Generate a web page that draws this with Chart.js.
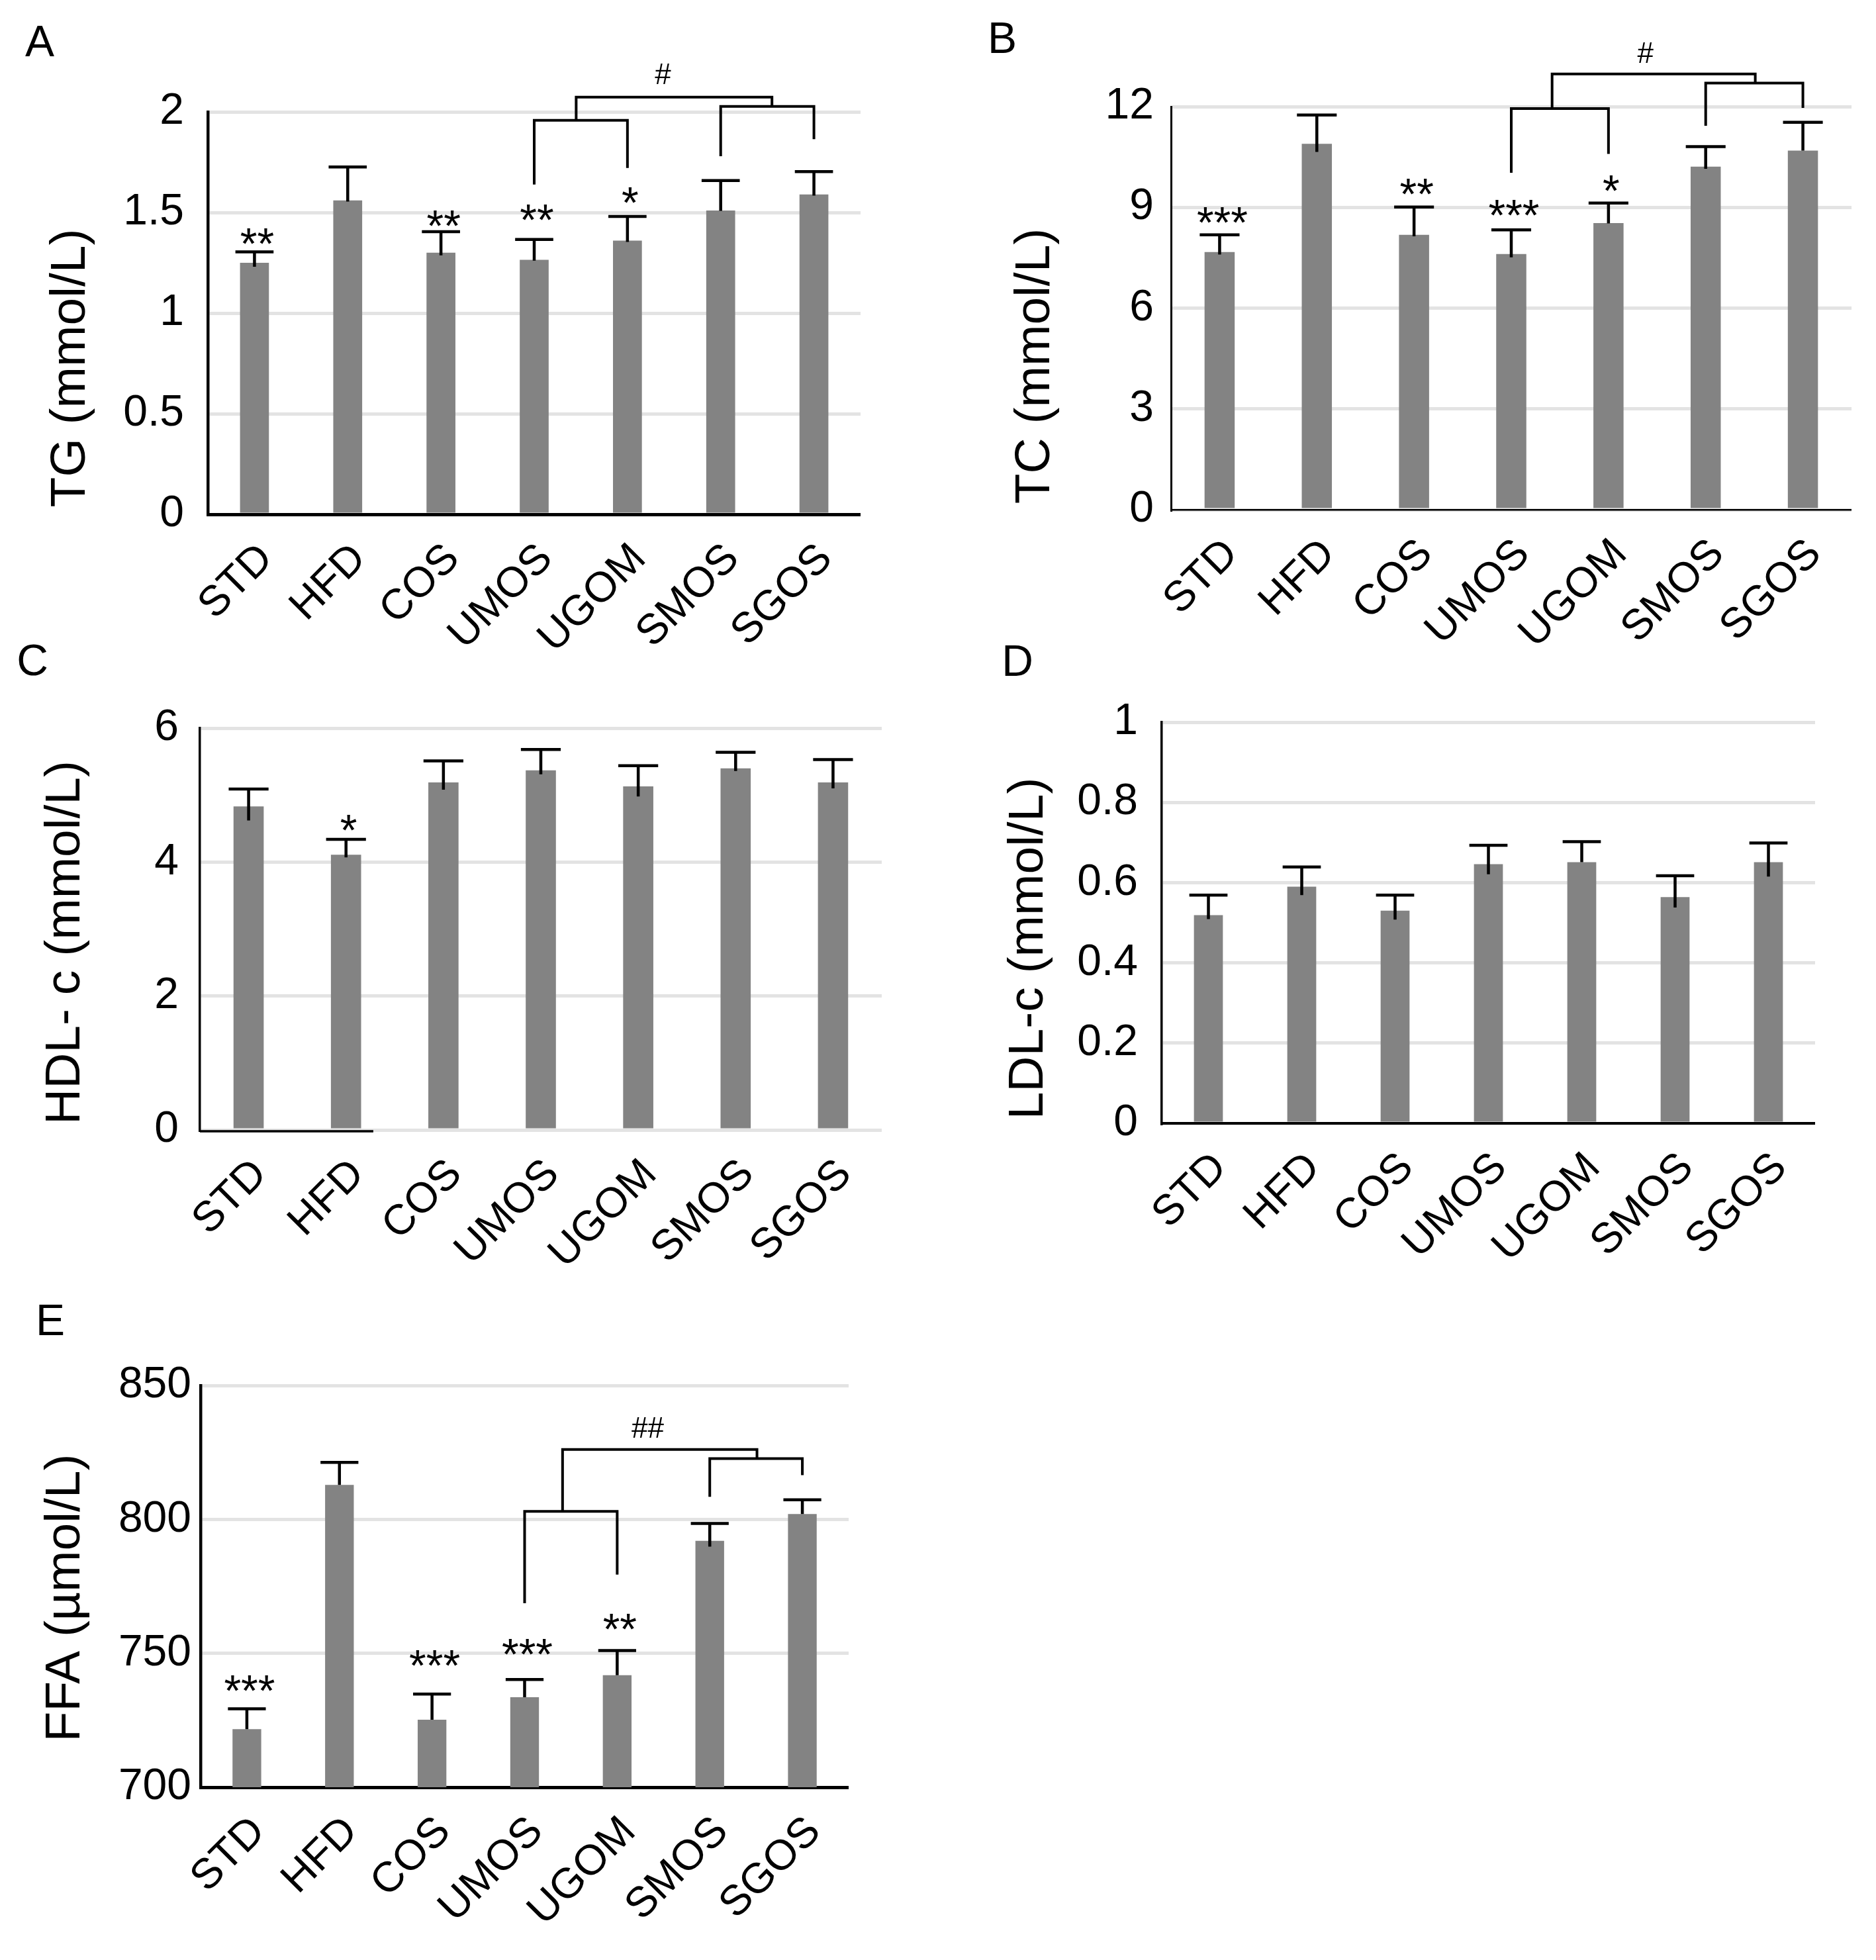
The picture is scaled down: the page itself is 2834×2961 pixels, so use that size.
<!DOCTYPE html>
<html>
<head>
<meta charset="utf-8">
<script src="https://cdn.jsdelivr.net/npm/chart.js@4.4.0/dist/chart.umd.min.js"></script>
<style>
  body { margin: 0; background: #fff; }
  #wrap { position: relative; width: 2834px; height: 2961px; background: #fff; overflow: hidden; }
  #wrap canvas { position: absolute; }
</style>
</head>
<body>
<div id="wrap">
  <canvas id="chartA"></canvas>
  <canvas id="chartB"></canvas>
  <canvas id="chartC"></canvas>
  <canvas id="chartD"></canvas>
  <canvas id="chartE"></canvas>
</div>
<script>
Chart.defaults.font.family = '"Liberation Sans", Arial, sans-serif';
Chart.defaults.color = '#000';

const groups = ['STD', 'HFD', 'COS', 'UMOS', 'UGOM', 'SMOS', 'SGOS'];

// A - TG
const tgMean = [1.25, 1.56, 1.30, 1.265, 1.36, 1.51, 1.59];
const tgErr = [0.054, 0.166, 0.105, 0.101, 0.12, 0.149, 0.113];
const tgErrLo = [0.02, 0.006, 0.013, 0.004, 0.006, 0.002, 0.006];
const tgTicks = ['0', '0.5', '1', '1.5', '2'];
const tgStars = ['**', '', '**', '**', '*', '', ''];
const tgStarY = [1.38, null, 1.47, 1.50, 1.587, null, null];
// [from, to, level, left end, right end]
const tgBrackets = [[3, 4, 1.958, 1.639, 1.721], [5, 6, 2.027, 1.78, 1.864], [3.45, 5.55, 2.073, 1.958, 2.027]];
const tgHash = ['#', 4.38, 2.19];

// B - TC
const tcMean = [7.67, 10.89, 8.18, 7.61, 8.53, 10.21, 10.69];
const tcErr = [0.51, 0.86, 0.83, 0.72, 0.60, 0.60, 0.84];
const tcErrLo = [0.075, 0.24, 0.04, 0.1, 0.01, 0.06, 0];
const tcTicks = ['0', '3', '6', '9', '12'];
const tcStars = ['***', '', '**', '***', '*', '', ''];
const tcStarY = [8.77, null, 9.61, 8.99, 9.72, null, null];
const tcBrackets = [[3, 4, 11.94, 10.03, 10.59], [5, 6, 12.70, 11.43, 11.96], [3.42, 5.51, 12.97, 11.94, 12.70]];
const tcHash = ['#', 4.38, 13.61];

// C - HDL-c
const hdlMean = [4.83, 4.11, 5.19, 5.37, 5.13, 5.40, 5.19];
const hdlErr = [0.26, 0.23, 0.32, 0.31, 0.31, 0.24, 0.34];
const hdlErrLo = [0.21, 0.04, 0.11, 0.06, 0.15, 0.04, 0.09];
const hdlTicks = ['0', '2', '4', '6'];
const hdlStars = ['', '*', '', '', '', '', ''];
const hdlStarY = [null, 4.59, null, null, null, null, null];

// D - LDL-c
const ldlMean = [0.519, 0.590, 0.530, 0.646, 0.651, 0.564, 0.651];
const ldlErr = [0.05, 0.049, 0.039, 0.047, 0.051, 0.053, 0.048];
const ldlErrLo = [0.01, 0.021, 0.022, 0.025, 0, 0.026, 0.036];
const ldlTicks = ['0', '0.2', '0.4', '0.6', '0.8', '1'];

// E - FFA
const ffaMean = [721.7, 812.9, 725.2, 733.6, 741.8, 792.0, 802.0];
const ffaErr = [7.6, 8.4, 9.6, 6.6, 9.2, 6.5, 5.3];
const ffaErrLo = [0, 0, 0, 0, 0, 2.2, 0];
const ffaTicks = ['700', '750', '800', '850'];
const ffaStars = ['***', '', '***', '***', '**', '', ''];
const ffaStarY = [738.7, null, 748.3, 752.3, 761.7, null, null];
const ffaBrackets = [[3, 4, 803, 768.7, 779.4], [5, 6, 822.7, 808.4, 816.5], [3.41, 5.51, 826.1, 803, 822.7]];
const ffaHash = ['##', 4.33, 834.4];

const FONT = '"Liberation Sans", Arial, sans-serif';

const panels = [
  { id: 'chartA', letter: 'A', title: 'TG (mmol/L)', box: [0, 0, 1300, 1000], yw: 314, pt: 169, xh: 223,
    min: 0, max: 2, step: 0.5, ticks: tgTicks, tickPad: 36, mean: tgMean, err: tgErr, lo: tgErrLo,
    stars: tgStars, starY: tgStarY, brackets: tgBrackets, hash: tgHash,
    letterAt: [60, 62], titleAt: [108, 556], xLine: 5, yLine: 4.5 },
  { id: 'chartB', letter: 'B', title: 'TC (mmol/L)', box: [1420, 0, 1377, 1000], yw: 349, pt: 161, xh: 230,
    min: 0, max: 12, step: 3, ticks: tcTicks, tickPad: 26, mean: tcMean, err: tcErr, lo: tcErrLo,
    stars: tcStars, starY: tcStarY, brackets: tcBrackets, hash: tcHash,
    letterAt: [1514, 57], titleAt: [1565, 553], xLine: 2.5, yLine: 3 },
  { id: 'chartC', letter: 'C', title: 'HDL- c (mmol/L)', box: [0, 960, 1332, 990], yw: 302, pt: 140, xh: 243,
    min: 0, max: 6, step: 2, ticks: hdlTicks, tickPad: 32, mean: hdlMean, err: hdlErr, lo: hdlErrLo,
    stars: hdlStars, starY: hdlStarY, brackets: [], hash: null, xAxisTo: 1.28,
    letterAt: [49, 997], titleAt: [100, 1424], xLine: 0, yLine: 3.5 },
  { id: 'chartD', letter: 'D', title: 'LDL-c (mmol/L)', box: [1420, 960, 1322, 990], yw: 335, pt: 131, xh: 253,
    min: 0, max: 1, step: 0.2, ticks: ldlTicks, tickPad: 36, mean: ldlMean, err: ldlErr, lo: ldlErrLo,
    stars: [], starY: [], brackets: [], hash: null,
    letterAt: [1537, 998], titleAt: [1555, 1433], xLine: 4, yLine: 3.5 },
  { id: 'chartE', letter: 'E', title: 'FFA (µmol/L)', box: [0, 1950, 1282, 1011], yw: 303, pt: 143, xh: 261,
    min: 700, max: 850, step: 50, ticks: ffaTicks, tickPad: 14, mean: ffaMean, err: ffaErr, lo: ffaErrLo,
    stars: ffaStars, starY: ffaStarY, brackets: ffaBrackets, hash: ffaHash,
    letterAt: [76, 1994], titleAt: [100, 2414], xLine: 5, yLine: 4.5 }
];

// text centred on its visible ink
function midText(ctx, txt, x, y) {
  const m = ctx.measureText(txt);
  ctx.textBaseline = 'alphabetic';
  ctx.fillText(txt, x, y + (m.actualBoundingBoxAscent - m.actualBoundingBoxDescent) / 2);
}

function makeExtras(p) {
  return {
    id: 'extras',
    afterDatasetsDraw(chart) {
      const ctx = chart.ctx, xs = chart.scales.x, ys = chart.scales.y;
      const bars = chart.getDatasetMeta(0).data;
      ctx.save();
      ctx.strokeStyle = '#000';
      ctx.fillStyle = '#000';

      // panel C only has a short dark stretch of x axis
      if (p.xAxisTo != null) {
        ctx.lineWidth = 3.5;
        ctx.beginPath();
        ctx.moveTo(chart.chartArea.left, ys.getPixelForValue(p.min) + 2);
        ctx.lineTo(xs.getPixelForValue(p.xAxisTo), ys.getPixelForValue(p.min) + 2);
        ctx.stroke();
      }

      // error bars
      ctx.lineWidth = 4.5;
      p.err.forEach((e, i) => {
        const b = bars[i];
        const half = b.width * 0.66;
        const yTop = ys.getPixelForValue(p.mean[i] + e);
        const yBot = ys.getPixelForValue(p.mean[i] - p.lo[i]);
        ctx.beginPath();
        ctx.moveTo(b.x, yBot);
        ctx.lineTo(b.x, yTop);
        ctx.moveTo(b.x - half, yTop);
        ctx.lineTo(b.x + half, yTop);
        ctx.stroke();
      });

      // asterisks
      ctx.textAlign = 'center';
      ctx.font = '66px ' + FONT;
      p.stars.forEach((s, i) => {
        if (s) midText(ctx, s, xs.getPixelForValue(i) + 4, ys.getPixelForValue(p.starY[i]));
      });

      // brackets between groups
      ctx.lineWidth = 4;
      p.brackets.forEach(([a, b, lvl, ya, yb]) => {
        ctx.beginPath();
        ctx.moveTo(xs.getPixelForValue(a), ys.getPixelForValue(ya));
        ctx.lineTo(xs.getPixelForValue(a), ys.getPixelForValue(lvl));
        ctx.lineTo(xs.getPixelForValue(b), ys.getPixelForValue(lvl));
        ctx.lineTo(xs.getPixelForValue(b), ys.getPixelForValue(yb));
        ctx.stroke();
      });
      if (p.hash) {
        ctx.font = '44px ' + FONT;
        midText(ctx, p.hash[0], xs.getPixelForValue(p.hash[1]), ys.getPixelForValue(p.hash[2]));
      }
      ctx.restore();
    },
    afterDraw(chart) {
      const ctx = chart.ctx;
      ctx.save();
      ctx.fillStyle = '#000';
      ctx.textAlign = 'center';
      ctx.font = '66px ' + FONT;
      midText(ctx, p.letter, p.letterAt[0] - p.box[0], p.letterAt[1] - p.box[1]);
      ctx.translate(p.titleAt[0] - p.box[0], p.titleAt[1] - p.box[1]);
      ctx.rotate(-Math.PI / 2);
      ctx.font = '75px ' + FONT;
      midText(ctx, p.title, 0, 0);
      ctx.restore();
    }
  };
}

panels.forEach(p => {
  const cv = document.getElementById(p.id);
  cv.width = p.box[2];
  cv.height = p.box[3];
  cv.style.left = p.box[0] + 'px';
  cv.style.top = p.box[1] + 'px';

  new Chart(cv, {
    type: 'bar',
    data: {
      labels: groups,
      datasets: [{
        data: p.mean,
        backgroundColor: '#838383',
        barPercentage: 0.31,
        categoryPercentage: 1
      }]
    },
    options: {
      responsive: false,
      animation: false,
      devicePixelRatio: 1,
      layout: { padding: { top: p.pt, left: 0, right: 0, bottom: 0 } },
      plugins: { legend: { display: false }, tooltip: { enabled: false } },
      scales: {
        x: {
          grid: { display: false, drawTicks: false },
          border: { display: p.xLine > 0, color: '#000', width: p.xLine || 1 },
          ticks: { font: { size: 64 }, minRotation: 45, maxRotation: 45, autoSkip: false, padding: 30, labelOffset: 18 },
          afterFit(s) { s.height = p.xh; s.paddingLeft = 0; s.paddingRight = 0; }
        },
        y: {
          min: p.min,
          max: p.max,
          ticks: { stepSize: p.step, font: { size: 66 }, padding: p.tickPad, callback: (v, i) => p.ticks[i] },
          grid: { color: '#e3e3e3', lineWidth: 5, drawTicks: false },
          border: { color: '#000', width: p.yLine },
          afterFit(s) { s.width = p.yw; s.paddingTop = 0; s.paddingBottom = 0; }
        }
      }
    },
    plugins: [makeExtras(p)]
  });
});
</script>
</body>
</html>
